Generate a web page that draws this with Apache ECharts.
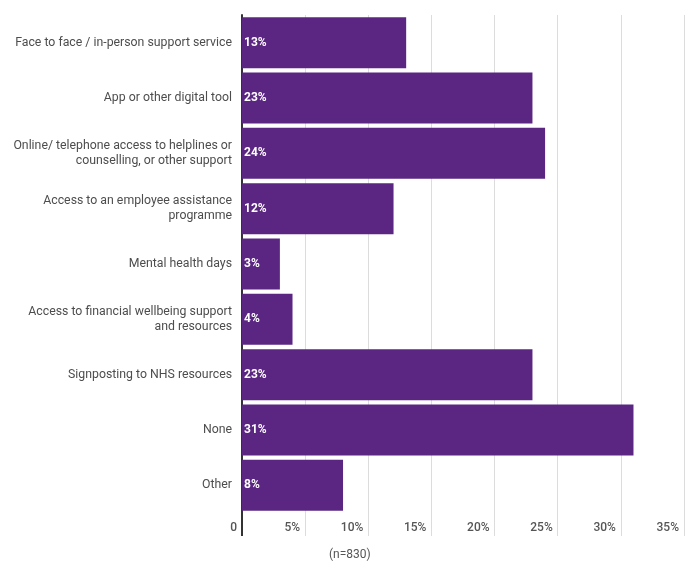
<!DOCTYPE html>
<html>
<head>
<meta charset="utf-8">
<script src="https://cdn.jsdelivr.net/npm/echarts@6/dist/echarts.min.js"></script>
<style>html,body{margin:0;padding:0;background:#fff}#c{width:694px;height:562px}</style>
</head>
<body>
<div id="c"></div>
<script>
const categories = [
  "Face to face / in-person support service",
  "App or other digital tool",
  "Online/ telephone access to helplines or\ncounselling, or other support",
  "Access to an employee assistance\nprogramme",
  "Mental health days",
  "Access to financial wellbeing support\nand resources",
  "Signposting to NHS resources",
  "None",
  "Other"
];
const values = [13, 23, 24, 12, 3, 4, 23, 31, 8];
const xTicks = [0, 5, 10, 15, 20, 25, 30, 35];
const note = "(n=830)";

const chart = echarts.init(document.getElementById('c'));
const font = 'Roboto, "Noto Sans", sans-serif';
chart.setOption({
  animation: false,
  textStyle: { fontFamily: font },
  title: {
    text: note, left: 324, top: 544,
    textStyle: { fontSize: 12, fontWeight: 'normal', color: '#555', fontFamily: font }
  },
  grid: { left: 242, right: 10, top: 15, bottom: 49, containLabel: false },
  xAxis: [{
    type: 'value', min: xTicks[0], max: xTicks[xTicks.length - 1], interval: 5,
    axisLine: { show: false },
    axisTick: { show: true, length: 23, lineStyle: { color: '#dcdcdc', width: 1 } },
    splitLine: { show: true, lineStyle: { color: '#dcdcdc', width: 1 } },
    axisLabel: {
      margin: 9, align: 'right', padding: [0, 5, 0, 0],
      color: '#555', fontSize: 12, fontWeight: 500, fontFamily: font,
      formatter: v => v === 0 ? '0' : v + '%'
    }
  }, {
    type: 'value', min: 0, max: 35, interval: 35, position: 'bottom',
    axisLine: { show: false },
    axisTick: { show: true, length: 23, customValues: [0], lineStyle: { color: '#333', width: 2 } },
    splitLine: { show: false },
    axisLabel: { show: false }
  }],
  yAxis: {
    type: 'category', data: categories, inverse: true,
    axisLine: { show: true, lineStyle: { color: '#333', width: 2 } },
    axisTick: { show: false },
    axisLabel: {
      margin: 10, color: '#4d4d4d', fontSize: 12.3, lineHeight: 15, align: 'right', fontFamily: font
    }
  },
  series: [{
    type: 'bar', data: values, xAxisIndex: 0, barWidth: 51,
    itemStyle: { color: '#5b2682' },
    label: {
      show: true, position: 'insideLeft', distance: 2,
      color: '#fff', fontWeight: 'bold', fontSize: 12, fontFamily: font,
      formatter: p => p.value + '%'
    }
  }]
});
</script>
</body>
</html>
